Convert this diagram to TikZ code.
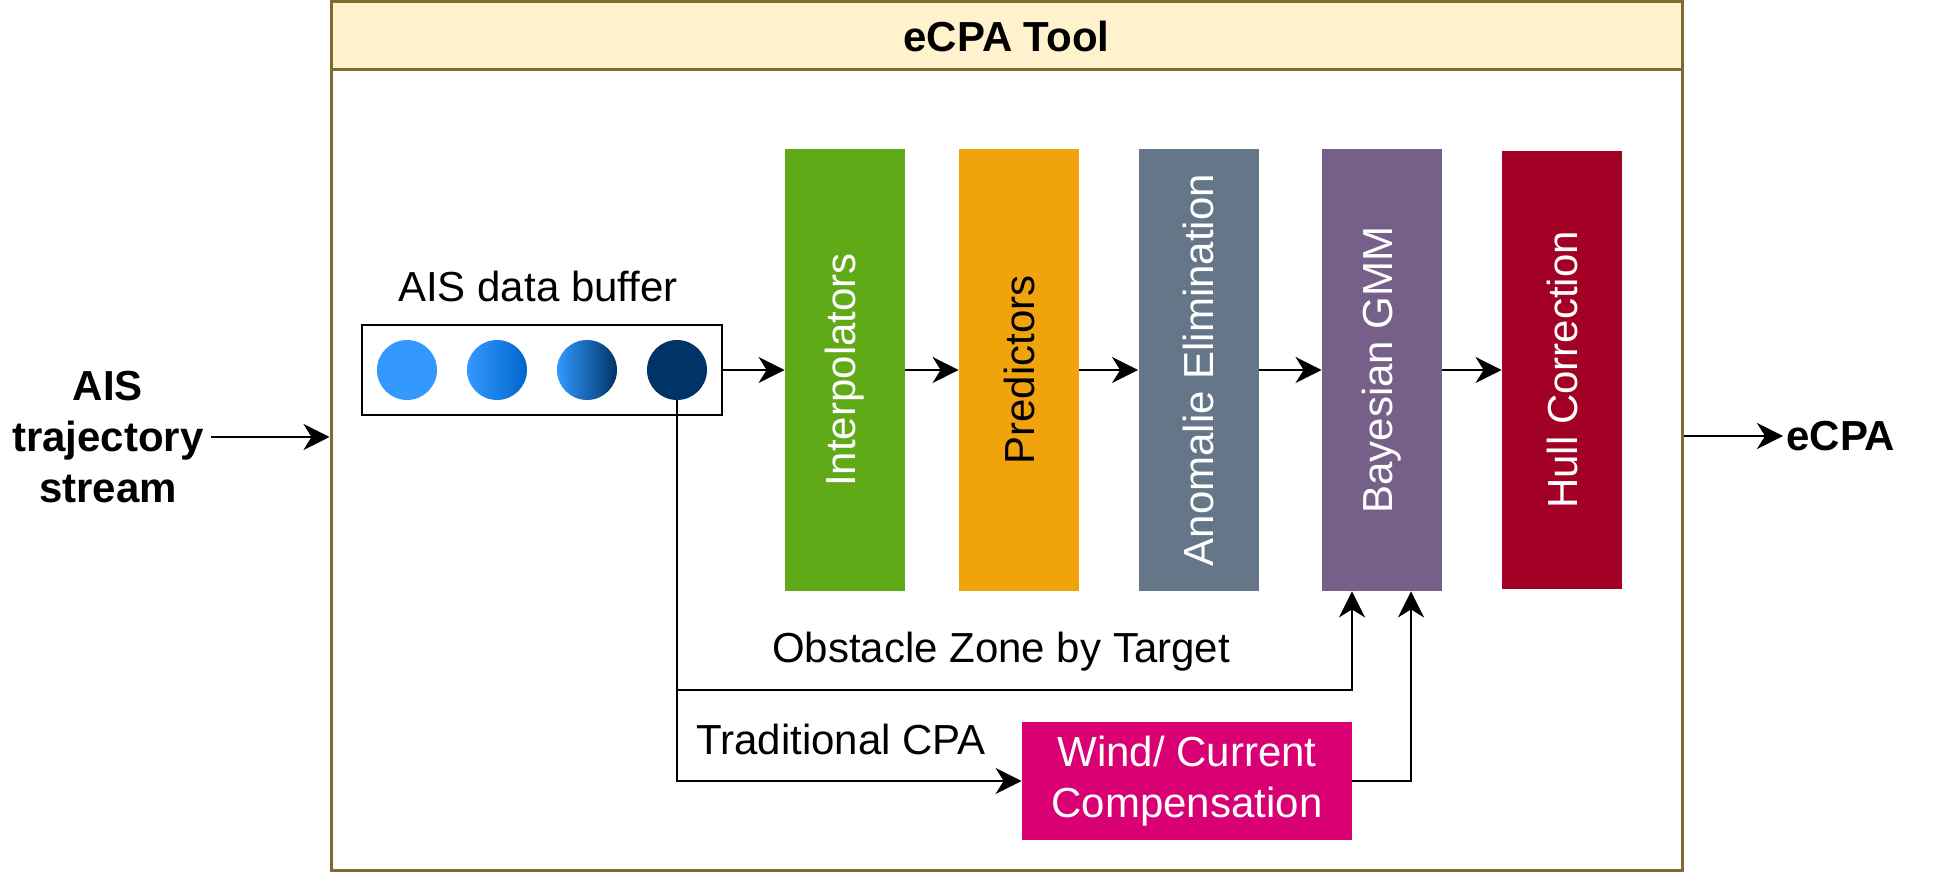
\documentclass[tikz,border=0pt]{standalone}
\usepackage{fontspec}
\setmainfont{Liberation Sans}
\usetikzlibrary{positioning,arrows.meta,calc}

\definecolor{toolline}{HTML}{7F6A34}
\definecolor{toolhead}{HTML}{FFF2CC}
\definecolor{interpgreen}{HTML}{60A917}
\definecolor{predorange}{HTML}{F0A30A}
\definecolor{anomgray}{HTML}{647687}
\definecolor{gmmpurple}{HTML}{76608A}
\definecolor{hullred}{HTML}{A20025}
\definecolor{windpink}{HTML}{D80073}
\definecolor{dotlight}{HTML}{3399FF}
\definecolor{dotmid}{HTML}{0066CC}
\definecolor{dotdark}{HTML}{003366}

\tikzset{
  txt/.style={font=\fontsize{21}{25.5}\selectfont},
  boldtxt/.style={font=\fontsize{21}{25.5}\selectfont\bfseries},
  stage/.style={txt, rectangle, minimum width=60pt, minimum height=221pt, inner sep=0pt, text=white},
  flow/.style={line width=1.35pt, -{Stealth[length=13pt,width=13pt,inset=4pt]}},
  dot/.style={circle, minimum size=30pt, inner sep=0pt},
}

\begin{document}
\begin{tikzpicture}[x=0.5pt,y=-0.5pt]
  \useasboundingbox (0,0) rectangle (1935,876);
  % tool frame and header
  \node[draw=toolline, line width=1.5pt, minimum width=675.5pt, minimum height=434.5pt] (tool) at (1006.5,436.5) {};
  \node[boldtxt, draw=toolline, fill=toolhead, line width=1.5pt, minimum width=675.5pt, minimum height=34pt] (head) at (1006.5,36) {eCPA Tool};

  % data buffer
  \node[draw, line width=1.35pt, minimum width=180pt, minimum height=45pt] (buffer) at (542,370) {};
  \node[txt, anchor=base] (buflabel) at (538,302) {AIS data buffer};
  \node[dot, fill=dotlight] (d1) at (407,370) {};
  \node[dot, left color=dotlight, right color=dotmid] (d2) at (497,370) {};
  \node[dot, left color=dotlight, right color=dotdark] (d3) at (587,370) {};
  \node[dot, fill=dotdark] (d4) at (677,370) {};

  % stages
  \node[stage, fill=interpgreen] (interp) at (845,370) {\rotatebox{90}{Interpolators}};
  \node[stage, fill=predorange, text=black] (pred) at (1019,370) {\rotatebox{90}{Predictors}};
  \node[stage, fill=anomgray] (anom) at (1198.5,370) {\rotatebox{90}{Anomalie Elimination}};
  \node[stage, fill=gmmpurple] (gmm) at (1382,370) {\rotatebox{90}{Bayesian GMM}};
  \node[stage, fill=hullred, minimum height=219pt] (hull) at (1562,370) {\rotatebox{90}{Hull Correction}};
  \node[txt, fill=windpink, text=white, align=center, minimum width=165pt, minimum height=59pt, inner sep=0pt] (wind) at (1187,781) {Wind/ Current\\Compensation};

  % input, output and labels
  \node[boldtxt, align=center] (ais) at (108,437) {AIS\\trajectory\\stream};
  \node[boldtxt, anchor=west, inner sep=1.5pt] (ecpa) at (1783,436) {eCPA};
  \node[txt, anchor=base] (ozt) at (1001,663) {Obstacle Zone by Target};
  \node[txt, anchor=base] (tcpa) at (841,755) {Traditional CPA};
  \coordinate (oz) at (1352,690);

  % connectors
  \draw[flow] (buffer) -- (interp);
  \draw[flow] (interp) -- (pred);
  \draw[flow] (pred) -- (anom);
  \draw[flow] (anom) -- (gmm);
  \draw[flow] (gmm) -- (hull);
  \draw[flow] (d4.south) |- (oz) -- ([xshift=-15pt]gmm.south);
  \draw[flow] (d4.south) |- (wind);
  \draw[flow] (wind.east) -| ([xshift=14.5pt]gmm.south);
  \draw[flow] (ais) -- (ais -| tool.west);
  \draw[flow] (ecpa -| tool.east) -- (ecpa);
\end{tikzpicture}
\end{document}
